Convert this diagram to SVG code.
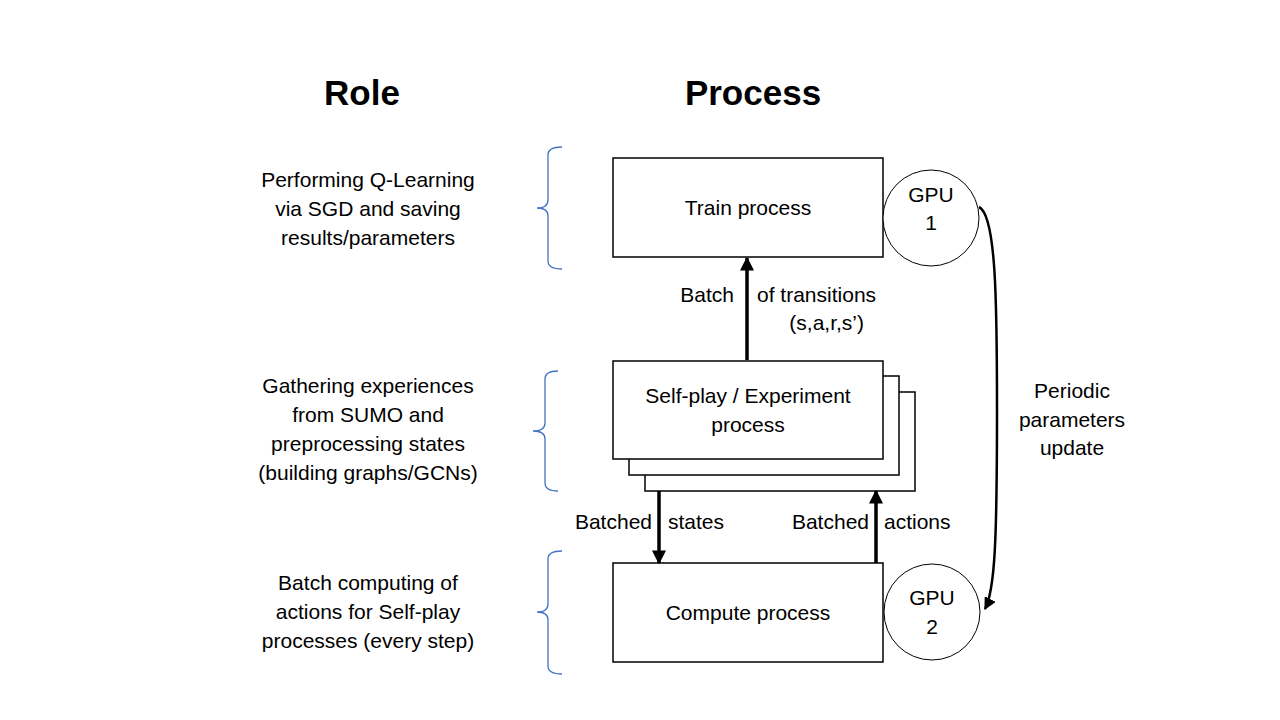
<svg xmlns="http://www.w3.org/2000/svg" width="1280" height="720" viewBox="0 0 1280 720">
<style>
.t{font-family:"Liberation Sans",Arial,sans-serif;font-size:21px;fill:#000}
.h{font-family:"Liberation Sans",Arial,sans-serif;font-size:35px;font-weight:bold;fill:#000}
.box{fill:#fff;stroke:#000;stroke-width:1.5}
.br{fill:none;stroke:#4472c4;stroke-width:1.3}
.ar{fill:none;stroke:#000;stroke-width:3.5}
</style>
<defs>
<marker id="ah" viewBox="0 0 10 10" refX="9" refY="5" markerWidth="4" markerHeight="4" orient="auto" markerUnits="strokeWidth">
<path d="M0,0 L10,5 L0,10 Z" fill="#000"/>
</marker>
<marker id="ah2" viewBox="0 0 10 10" refX="9" refY="5" markerWidth="5" markerHeight="5" orient="auto" markerUnits="strokeWidth">
<path d="M0,0 L10,5 L0,10 Z" fill="#000"/>
</marker>
</defs>
<rect width="1280" height="720" fill="#fff"/>
<g id="headers">
<text class="h" x="362" y="105" text-anchor="middle">Role</text>
<text class="h" x="753" y="105" text-anchor="middle">Process</text>
</g>
<g id="roles">
<text class="t" text-anchor="middle"><tspan x="368" y="187">Performing Q-Learning</tspan><tspan x="368" y="216">via SGD and saving</tspan><tspan x="368" y="245">results/parameters</tspan></text>
<text class="t" text-anchor="middle"><tspan x="368" y="393">Gathering experiences</tspan><tspan x="368" y="422">from SUMO and</tspan><tspan x="368" y="451">preprocessing states</tspan><tspan x="368" y="480">(building graphs/GCNs)</tspan></text>
<text class="t" text-anchor="middle"><tspan x="368" y="590">Batch computing of</tspan><tspan x="368" y="619">actions for Self-play</tspan><tspan x="368" y="648">processes (every step)</tspan></text>
</g>
<g id="braces">
<path class="br" d="M562,147 Q548,147 548,155 L548,200 Q548,208 537,208 Q548,208 548,216 L548,261 Q548,269 562,269"/>
<path class="br" d="M558,371 Q545,371 545,379 L545,423 Q545,431 533,431 Q545,431 545,439 L545,483 Q545,491 558,491"/>
<path class="br" d="M562,551 Q548,551 548,559 L548,604 Q548,612 537,612 Q548,612 548,620 L548,666 Q548,674 562,674"/>
</g>
<g id="train">
<rect class="box" x="613" y="158" width="270" height="99"/>
<text class="t" x="748" y="215" text-anchor="middle">Train process</text>
</g>
<g id="selfplay">
<rect class="box" x="645" y="392" width="270" height="99"/>
<rect class="box" x="629" y="376" width="270" height="99"/>
<rect class="box" x="613" y="361" width="270" height="98"/>
<text class="t" text-anchor="middle"><tspan x="748" y="403">Self-play / Experiment</tspan><tspan x="748" y="432">process</tspan></text>
</g>
<g id="compute">
<rect class="box" x="613" y="563" width="270" height="99"/>
<text class="t" x="748" y="620" text-anchor="middle">Compute process</text>
</g>
<g id="gpu1">
<circle cx="931" cy="218" r="48" fill="#fff" stroke="#000" stroke-width="1"/>
<text class="t" text-anchor="middle"><tspan x="931" y="202">GPU</tspan><tspan x="931" y="230">1</tspan></text>
</g>
<g id="gpu2">
<circle cx="932" cy="612" r="48" fill="#fff" stroke="#000" stroke-width="1"/>
<text class="t" text-anchor="middle"><tspan x="932" y="605">GPU</tspan><tspan x="932" y="634">2</tspan></text>
</g>
<g id="connectors">
<line class="ar" x1="747" y1="360" x2="747" y2="258" marker-end="url(#ah)"/>
<line class="ar" x1="659" y1="491" x2="659" y2="563" marker-end="url(#ah)"/>
<line class="ar" x1="876" y1="563" x2="876" y2="491" marker-end="url(#ah)"/>
<path d="M979,207 C996,215 997,300 997,410 C997,540 995,590 985,609" fill="none" stroke="#000" stroke-width="2.5" marker-end="url(#ah2)"/>
</g>
<g id="labels">
<text class="t" x="734" y="302" text-anchor="end">Batch</text>
<text class="t" x="757" y="302">of transitions</text>
<text class="t" x="864" y="330" text-anchor="end">(s,a,r,s’)</text>
<text class="t" x="652" y="529" text-anchor="end">Batched</text>
<text class="t" x="668" y="529">states</text>
<text class="t" x="869" y="529" text-anchor="end">Batched</text>
<text class="t" x="884" y="529">actions</text>
<text class="t" text-anchor="middle"><tspan x="1072" y="398">Periodic</tspan><tspan x="1072" y="427">parameters</tspan><tspan x="1072" y="455">update</tspan></text>
</g>
</svg>
